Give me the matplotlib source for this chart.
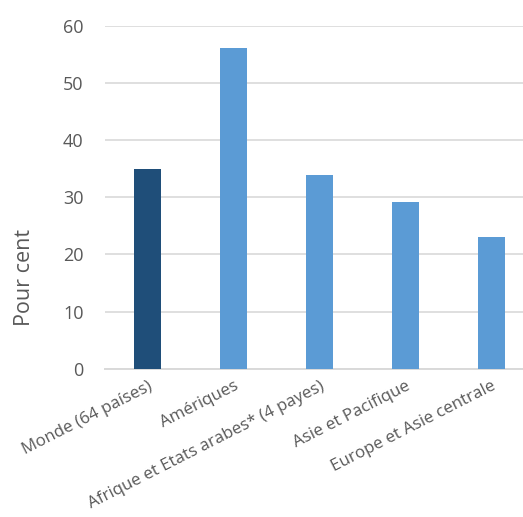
import matplotlib
matplotlib.use("Agg")
import matplotlib.pyplot as plt

# données
categories = ["Monde (64 países)", "Amériques", "Afrique et Etats arabes* (4 payes)",
              "Asie et Pacifique", "Europe et Asie centrale"]
valeurs = [35.0, 56.1, 33.8, 29.1, 23.0]
couleurs = ["#1F4E79", "#5B9BD5", "#5B9BD5", "#5B9BD5", "#5B9BD5"]
yticks = [0, 10, 20, 30, 40, 50, 60]

plt.rcParams['font.family'] = ['Open Sans', 'DejaVu Sans']
gris = "#595959"

fig = plt.figure(figsize=(5.23, 5.17), dpi=100)
ax = fig.add_axes([104.5 / 523, (517 - 368.7) / 517, 430 / 523, 343 / 517])

x = range(len(categories))
ax.bar(x, valeurs, width=0.314, color=couleurs, zorder=3)

ax.set_xlim(-0.5, len(categories) - 0.5)
ax.set_ylim(0, 60)
ax.set_yticks(yticks)
ax.set_yticklabels([str(v) for v in yticks], fontsize=13, color=gris)
ax.set_xticks(list(x))
ax.set_xticklabels(categories, rotation=27, ha='right', rotation_mode='anchor',
                   fontsize=12.2, color=gris)
ax.tick_params(axis='both', length=0)
ax.tick_params(axis='y', pad=15)
ax.tick_params(axis='x', pad=7)

ax.grid(True, axis='y', color="#D9D9D9", linewidth=1.2, zorder=0)
for s in ['top', 'right', 'left']:
    ax.spines[s].set_visible(False)
ax.spines['bottom'].set_color("#D9D9D9")
ax.spines['bottom'].set_linewidth(1.4)

ax.set_ylabel("Pour cent", fontsize=15.5, color=gris, va='center')
ax.yaxis.set_label_coords(-0.185, 0.267)

fig.savefig("out.png", dpi=100)
